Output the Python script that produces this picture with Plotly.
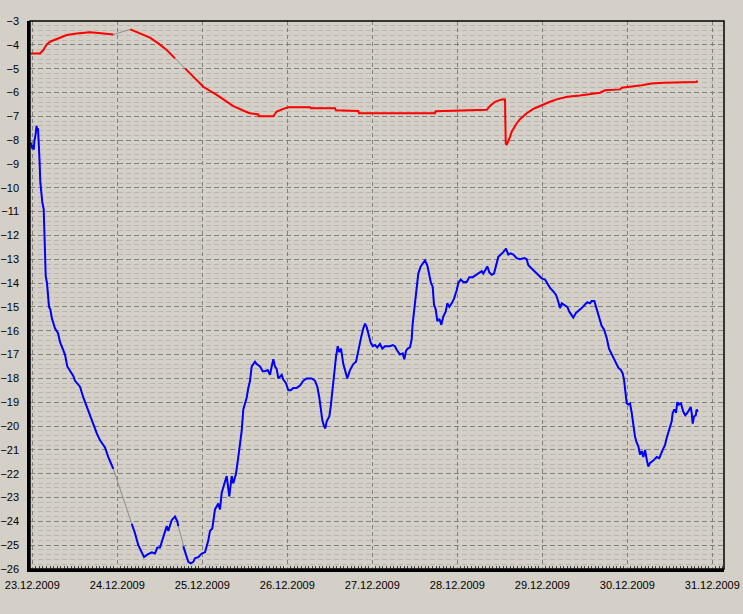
import pandas as pd
import plotly.graph_objects as go

START = pd.Timestamp("2009-12-23")

# hours since 23.12.2009 00:00, None in values = no data (gap bridged in grey)
blue_hours = [
    -0.45, -0.23, 0.0, 0.2, 0.4, 0.62, 0.9, 1.19, 1.41, 1.61, 1.81, 1.89, 2.03, 2.26,
    2.54, 2.82, 3.22, 3.5, 3.78, 4.15, 4.43, 4.72, 5.08, 5.56, 6.41, 7.26, 7.82, 8.3,
    9.23, 9.88, 10.64, 11.58, 12.06, 13.47, 14.4, 15.36, 16.29, 17.22, 18.18, 19.12,
    19.6, 20.53, 21.46, 22.42, 22.87, 25.0, 28.07, 29.0, 29.93, 30.89, 31.54, 32.47,
    33.71, 34.64, 35.29, 36.06, 36.99, 37.95, 38.4, 39.36, 40.29, 40.94, 41.22, 42.0,
    42.63, 43.12, 43.59, 44.05, 44.72, 45.46, 45.94, 46.87, 47.83, 48.76, 49.69,
    50.17, 50.82, 51.58, 52.52, 53.0, 53.48, 54.41, 54.89, 55.62, 56.3, 56.75, 57.51,
    58.16, 58.64, 59.12, 59.58, 60.54, 60.99, 61.47, 61.95, 62.4, 62.88, 63.36, 64.3,
    65.05, 65.7, 66.46, 67.11, 67.59, 68.05, 68.53, 69.0, 69.46, 70.42, 70.87, 71.63,
    72.28, 72.96, 73.69, 74.65, 75.58, 76.52, 77.48, 78.89, 79.82, 80.47, 81.03,
    81.43, 81.88, 82.36, 82.73, 83.12, 83.86, 84.25, 84.82, 85.27, 85.75, 86.23,
    86.68, 87.16, 87.81, 88.57, 88.94, 89.7, 90.63, 91.4, 92.05, 92.81, 93.46, 93.94,
    94.42, 95.07, 95.55, 96.11, 96.76, 97.41, 98.17, 98.82, 99.58, 100.23, 100.99,
    101.75, 102.4, 102.88, 103.33, 103.81, 104.58, 105.03, 105.51, 105.99, 106.64,
    107.12, 107.4, 107.77, 108.14, 108.54, 108.99, 109.67, 110.23, 110.88, 111.53,
    112.1, 112.58, 113.05, 113.42, 113.9, 114.35, 114.92, 115.48, 116.05, 116.72,
    117.18, 117.74, 118.42, 119.07, 119.83, 120.28, 120.96, 121.69, 122.65, 123.39,
    124.35, 125.28, 125.93, 126.89, 127.34, 127.82, 128.47, 129.04, 129.71, 130.36,
    131.13, 131.58, 132.26, 132.99, 133.75, 134.4, 135.08, 135.81, 136.77, 137.7,
    138.92, 139.59, 140.05, 141.01, 141.94, 142.87, 143.83, 144.76, 145.41, 146.17,
    147.11, 147.87, 148.35, 148.71, 149.0, 149.48, 150.41, 151.06, 151.62, 152.3,
    152.75, 153.51, 154.45, 155.12, 156.06, 156.71, 157.47, 157.95, 158.68, 159.16,
    159.64, 160.09, 160.77, 161.42, 162.18, 162.83, 163.59, 164.24, 164.81, 165.46,
    166.22, 166.7, 167.07, 167.44, 167.84, 168.29, 168.77, 169.25, 169.7, 170.18,
    170.66, 171.11, 171.59, 172.07, 172.52, 173.0, 173.48, 173.93, 174.41, 174.89,
    175.34, 176.3, 177.03, 177.99, 178.64, 179.12, 179.57, 180.05, 180.53, 180.81,
    181.27, 181.75, 182.11, 182.51, 183.16, 183.81, 184.37, 184.94, 185.5, 185.9,
    186.18, 186.46, 186.83, 187.31, 187.59, 187.88,
]
blue_values = [
    -8.1, -8.25, -8.35, -8.2, -8.4, -8.0, -7.8, -7.4, -7.6, -7.5, -8.0, -8.1, -8.8, -9.75,
    -10.3, -10.6, -10.9, -12.6, -13.7, -14.0, -14.5, -15.0, -15.1, -15.5, -15.9, -16.1, -16.47, -16.67,
    -17.0, -17.5, -17.7, -17.9, -18.1, -18.35, -18.8, -19.2, -19.5, -19.9, -20.3, -20.6,
    -20.7, -20.9, -21.3, -21.6, -21.8, None, -24.1, -24.5, -25.0, -25.3, -25.5, -25.4,
    -25.3, -25.35, -25.1, -25.1, -24.6, -24.2, -24.4, -23.95, -23.8, -24.0, -24.2, None,
    -25.05, -25.3, -25.5, -25.7, -25.76, -25.7, -25.55, -25.5, -25.35, -25.3, -24.8,
    -24.4, -24.3, -23.5, -23.25, -23.5, -22.8, -22.3, -22.1, -22.95, -22.1, -22.4, -22.0,
    -21.3, -20.7, -20.2, -19.3, -18.8, -18.4, -18.1, -17.5, -17.4, -17.3, -17.4, -17.5,
    -17.7, -17.7, -17.65, -17.85, -17.5, -17.2, -17.5, -17.6, -18.0, -17.85, -18.05, -18.2,
    -18.5, -18.5, -18.4, -18.4, -18.3, -18.1, -18.0, -18.0, -18.1, -18.35, -18.8,
    -19.3, -19.75, -20.0, -20.1, -19.8, -19.6, -19.2, -18.35, -17.8, -17.1, -16.65,
    -16.9, -16.75, -17.4, -17.8, -18.0, -17.65, -17.4, -17.3, -16.8, -16.3, -15.9, -15.7,
    -15.85, -16.2, -16.5, -16.65, -16.6, -16.7, -16.55, -16.75, -16.65, -16.65, -16.65,
    -16.6, -16.65, -16.8, -16.9, -17.0, -16.95, -17.2, -16.85, -16.75, -16.7,
    -16.35, -15.7, -15.2, -14.7, -14.0, -13.6, -13.3, -13.2, -13.05, -13.25,
    -13.6, -14.0, -14.15, -14.9, -15.1, -15.6, -15.5, -15.75, -15.4, -15.2,
    -14.85, -15.0, -14.85, -14.65, -14.3, -14.0, -13.85, -13.95, -13.95, -13.75,
    -13.75, -13.65, -13.6, -13.5, -13.6, -13.45, -13.3, -13.55, -13.65, -13.6,
    -13.15, -12.9, -12.8, -12.7, -12.55, -12.8, -12.75, -12.8, -12.95, -13.0,
    -12.95, -13.0, -13.25, -13.4, -13.5, -13.65, -13.8, -13.85, -14.0, -14.2,
    -14.35, -14.5, -14.7, -14.9, -15.05, -14.85, -14.95, -15.0, -15.2, -15.35,
    -15.45, -15.25, -15.15, -15.05, -14.9, -14.8, -14.85, -14.75, -14.75, -15.0,
    -15.25, -15.55, -15.8, -15.95, -16.3, -16.75, -17.0, -17.2, -17.35, -17.55,
    -17.65, -17.8, -18.05, -18.55, -19.05, -19.1, -19.05, -19.45, -19.9, -20.45,
    -20.7, -20.85, -21.2, -21.05, -21.3, -21.0, -21.4, -21.7, -21.55, -21.5,
    -21.45, -21.3, -21.35, -21.0, -20.8, -20.5, -20.3, -20.1, -19.8, -19.45,
    -19.3, -19.45, -19.0, -19.1, -19.05, -19.4, -19.55, -19.45, -19.3, -19.2,
    -19.45, -19.9, -19.6, -19.55, -19.3, -19.4,
]

red_hours = [
    -0.45, 2.17, 3.11, 4.07, 5.0, 6.89, 9.71, 12.54, 16.29, 20.05, 22.87, 25.0, 27.67,
    30.41, 33.23, 35.58, 37.95, 40.29, 42.0, 43.12, 45.46, 48.28, 52.07, 56.75, 60.99,
    61.47, 63.81, 63.9, 68.05, 69.0, 70.87, 72.28, 78.41, 78.61, 85.47, 85.75, 92.05,
    92.24, 113.7, 113.9, 128.3, 129.23, 130.64, 132.53, 133.47, 133.67, 133.95, 134.4,
    134.88, 135.36, 136.01, 136.77, 137.7, 138.63, 139.59, 140.52, 141.46, 142.87,
    144.28, 146.17, 148.06, 151.06, 154.64, 157.47, 160.29, 161.71, 165.94, 166.42,
    169.25, 172.07, 174.89, 178.17, 187.59, 187.76,
]
red_values = [
    -4.36, -4.36, -4.22, -3.98, -3.87, -3.76, -3.59, -3.52, -3.47, -3.52, -3.57, None, -3.35,
    -3.52, -3.7, -3.94, -4.22, -4.57, None, -4.99, -5.34, -5.76, -6.1, -6.57, -6.85,
    -6.87, -6.92, -7.0, -7.0, -6.8, -6.69, -6.62, -6.62, -6.66, -6.66, -6.75, -6.78,
    -6.87, -6.87, -6.79, -6.73, -6.57, -6.39, -6.29, -6.29, -8.13, -8.2, -8.06,
    -7.86, -7.65, -7.46, -7.29, -7.12, -6.99, -6.87, -6.78, -6.69, -6.6,
    -6.5, -6.39, -6.29, -6.18, -6.13, -6.06, -6.01, -5.91, -5.87, -5.8,
    -5.76, -5.7, -5.62, -5.59, -5.56, -5.5,
]

BG = "#d4d0c8"
FONT = "Liberation Sans, Arial, sans-serif"


def to_time(hours):
    return [START + pd.Timedelta(hours=h) for h in hours]


fig = go.Figure()

# grey connectors across missing data, drawn underneath the coloured lines
for hrs, vals in [(red_hours, red_values), (blue_hours, blue_values)]:
    fig.add_trace(go.Scatter(
        x=to_time(hrs), y=vals, mode="lines", connectgaps=True,
        line=dict(color="#8c8c8c", width=1), hoverinfo="skip",
    ))

fig.add_trace(go.Scatter(
    x=to_time(red_hours), y=red_values, mode="lines", connectgaps=False,
    line=dict(color="#ff0000", width=2), name="red",
))
fig.add_trace(go.Scatter(
    x=to_time(blue_hours), y=blue_values, mode="lines", connectgaps=False,
    line=dict(color="#0000ff", width=2), name="blue",
))

# thin frame on top/right
fig.add_shape(type="rect", xref="paper", yref="paper", x0=0, x1=1, y0=0, y1=1,
              line=dict(color="black", width=1.5), layer="above")

fig.update_layout(
    width=743, height=614,
    margin=dict(l=30, r=19, t=21, b=45),
    paper_bgcolor=BG, plot_bgcolor=BG,
    showlegend=False,
    font=dict(family=FONT, size=11, color="black"),
)

fig.update_xaxes(
    type="date",
    range=[START - pd.Timedelta(hours=0.65), START + pd.Timedelta(hours=195.3)],
    dtick=86400000, tick0=START, tickformat="%d.%m.%Y",
    showgrid=True, gridcolor="#808080", griddash="4px,3px", gridwidth=1,
    showline=True, linecolor="black", linewidth=2.5, mirror=False,
    ticks="", ticklabelstandoff=4, zeroline=False, automargin=False,
    minor=dict(dtick=3600000, tick0=START, ticks="inside", ticklen=3,
               tickcolor="#404040", showgrid=False),
)
fig.update_yaxes(
    range=[-26, -3], dtick=1, tick0=-26,
    showgrid=True, gridcolor="#808080", griddash="5px,3px", gridwidth=1,
    minor=dict(dtick=0.2, showgrid=True, gridcolor="#bcb8b0", griddash="5px,3px",
               gridwidth=1),
    showline=True, linecolor="black", linewidth=2.5, mirror=False,
    ticks="", ticklabelstandoff=6, zeroline=False, automargin=False,
)

# page margin off so the figure sits at the window's corner
fig.write_html(
    "out.html",
    config={"displayModeBar": False},
    post_script="document.body.style.margin='0';document.body.style.background='%s';" % BG,
)
